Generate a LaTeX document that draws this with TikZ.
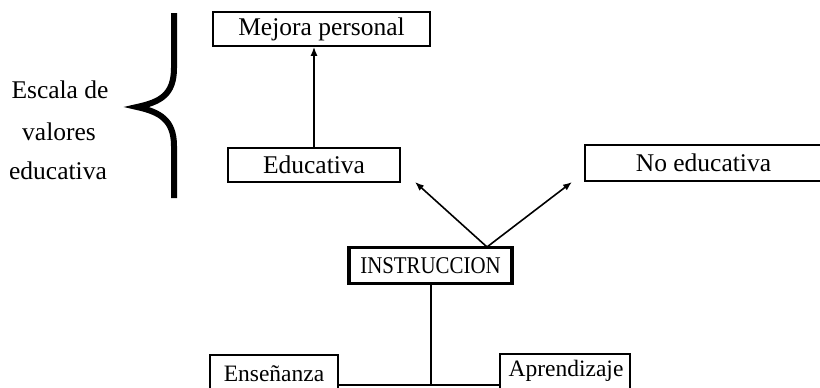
\documentclass[tikz,border=0pt]{standalone}
\usepackage{fontspec}
\usepackage{graphicx}
\setmainfont{Liberation Serif}
\usetikzlibrary{arrows.meta}
\begin{document}
\begin{tikzpicture}[x=1pt,y=-1pt,
  txt/.style={font=\fontsize{25.5}{28}\selectfont},
  small/.style={font=\fontsize{23.5}{26}\selectfont},
  box/.style={draw,line width=1.6pt,inner sep=0pt,txt},
  thickbox/.style={box,line width=3.5pt,font=\fontsize{24}{26}\selectfont},
  arr/.style={line width=1.6pt,-{Latex[length=9pt,width=7pt]}},
  lbl/.style={txt}]
\useasboundingbox (0,0) rectangle (820,388);
\clip (0,0) rectangle (820,388);
\fill[white] (0,0) rectangle (820,388);
\node[box,minimum width=217pt,minimum height=34pt] (mej) at (321.5,29) {Mejora personal};
\node[box,minimum width=172pt,minimum height=34pt] (edu) at (314,165) {Educativa};
\node[box,minimum width=237pt,minimum height=36pt] (noe) at (703.5,163) {No educativa};
\node[thickbox,minimum width=163pt,minimum height=36pt] (ins) at (430.5,265.5) {\scalebox{0.87}[1]{INSTRUCCION}};
\node[box,minimum width=128pt,minimum height=40pt] (ens) at (274,375) {};
\node[small] (enst) at (274,374) {Enseñanza};
\node[box,minimum width=130pt,minimum height=36pt] (apr) at (565,372) {};
\node[small] (aprt) at (566,371) {Aprendizaje};
\node[lbl] (t1) at (60,90) {Escala de};
\node[lbl] (t2) at (59,132) {valores};
\node[lbl] (t3) at (58,171) {educativa};
\draw[arr] (edu.north) -- (edu.north |- mej.south);
\coordinate (apex) at (487,247);
\coordinate (lt) at (415,182);
\coordinate (rt) at (572,182);
\draw[arr] (apex) -- (lt);
\draw[arr] (apex) -- (rt);
\coordinate (j) at (431,385);
\draw[line width=1.6pt] (ins.south -| j) -- (j);
\draw[line width=1.6pt] (ens.east |- j) -- (apr.west |- j);
% brace
\draw[line width=6pt,line cap=butt]
  (174,13) -- (174,68)
  .. controls (174,95) and (160,102) .. (137,107)
  .. controls (160,112) and (174,120) .. (174,146)
  -- (174,198);
\end{tikzpicture}
\end{document}
